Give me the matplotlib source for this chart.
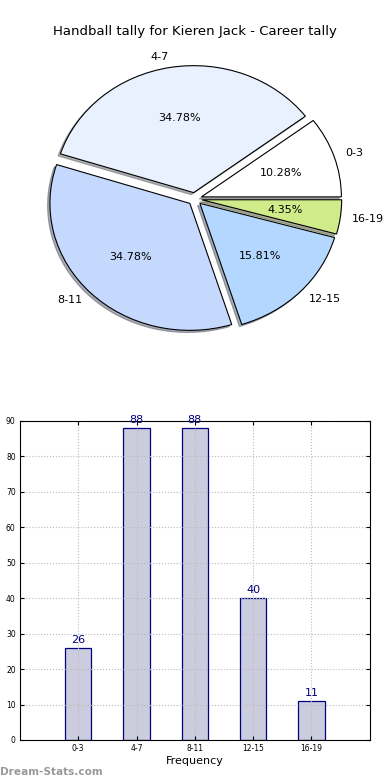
import matplotlib
matplotlib.use('Agg')
import matplotlib.pyplot as plt

# handball tally data
categories = ["0-3", "4-7", "8-11", "12-15", "16-19"]
counts = [26, 88, 88, 40, 11]
pie_colors = ["#ffffff", "#e9f1ff", "#c5d9ff", "#b4d7ff", "#d0ec8a"]
title = "Handball tally for Kieren Jack - Career tally"

fig = plt.figure(figsize=(3.9, 7.8), dpi=100)

# 1. Pie (old-style, stretched to the axes box)
ax1 = fig.add_axes([0.051, 0.745 - 0.2035, 0.897, 0.407])
ax1.pie(counts, labels=categories, colors=pie_colors, autopct="%.2f%%",
        explode=[0.05] * len(counts),
        shadow=dict(ox=-0.012, oy=-0.012, shade=0.6),
        startangle=0,
        wedgeprops=dict(edgecolor="black", linewidth=0.8),
        textprops=dict(fontsize=8), labeldistance=1.085, pctdistance=0.6)
ax1.set_aspect("auto")
ax1.set_xlim(-1.25, 1.25)
ax1.set_ylim(-1.25, 1.25)
ax1.set_title(title, fontsize=9.5, pad=4)

# 2. Bar chart
ax2 = fig.add_axes([0.051, 0.0513, 0.897, 0.409])
x = list(range(len(categories)))
bars = ax2.bar(x, counts, width=0.45, color="#ccccdf", edgecolor="navy", linewidth=0.9, zorder=0.5)
for xi, c in zip(x, counts):
    ax2.text(xi, c + 0.8, str(c), ha="center", va="bottom", color="navy", fontsize=8)
ax2.set_xlim(-1, 5)
ax2.set_ylim(0, 90)
ax2.set_yticks(range(0, 91, 10))
ax2.set_xticks(x)
ax2.set_xticklabels(categories)
ax2.tick_params(labelsize=5.5, direction="in", top=True, right=True, length=3, pad=3)
ax2.set_axisbelow("line")
ax2.grid(True, linestyle=":", color="#bbbbbb", linewidth=0.8)
ax2.set_xlabel("Frequency", fontsize=8, labelpad=2)

fig.text(0.0, 0.004, "Dream-Stats.com", fontsize=7.6, color="#999999", fontweight="bold", ha="left", va="bottom")

fig.savefig("out.png", dpi=100)
